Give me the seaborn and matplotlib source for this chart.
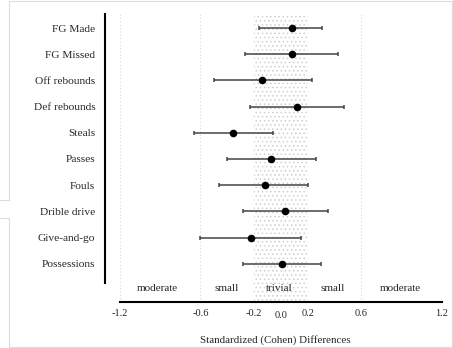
import numpy as np
import pandas as pd
import matplotlib
matplotlib.use('Agg')
import matplotlib.pyplot as plt
from matplotlib.lines import Line2D
from matplotlib.transforms import ScaledTranslation
import seaborn as sns

# データ
variables = ['FG Made', 'FG Missed', 'Off rebounds', 'Def rebounds', 'Steals',
             'Passes', 'Fouls', 'Drible drive', 'Give-and-go', 'Possessions']
effect = [0.08, 0.08, -0.14, 0.12, -0.36, -0.07, -0.12, 0.03, -0.22, 0.01]
ci_low = [-0.16, -0.27, -0.50, -0.23, -0.65, -0.40, -0.46, -0.28, -0.60, -0.28]
ci_high = [0.31, 0.43, 0.23, 0.47, -0.06, 0.26, 0.20, 0.35, 0.15, 0.30]

x_ticks = [-1.2, -0.6, -0.2, 0.0, 0.2, 0.6, 1.2]
zone_edges = [-1.2, -0.6, 0.6, 1.2]
zone_names = ['moderate', 'small', 'trivial', 'small', 'moderate']
zone_centers = [-0.92, -0.405, -0.01, 0.39, 0.893]

df = pd.DataFrame({'var': variables, 'd': effect, 'lo': ci_low, 'hi': ci_high})
df['pos'] = np.arange(len(df))

sns.set_style('white')
plt.rcParams['font.family'] = ['Liberation Serif', 'DejaVu Serif']
plt.rcParams['hatch.linewidth'] = 0.6
plt.rcParams['hatch.color'] = '#cfcfcf'

W, H = 453, 348
fig = plt.figure(figsize=(W / 100, H / 100), dpi=100)
ax = fig.add_axes([120 / W, 1 - 301.7 / H, 321.7 / W, 287.7 / H])

# trivial 領域（点描）と境界線
ax.axvspan(-0.2, 0.2, facecolor='none', edgecolor='#cfcfcf', hatch='....', linewidth=0, zorder=0)
for xe in zone_edges:
    ax.axvline(xe, color='#d8d8d8', linestyle=(0, (1, 2)), linewidth=0.8, zorder=0)

# 誤差棒
ax.errorbar(df['d'], df['pos'], xerr=[df['d'] - df['lo'], df['hi'] - df['d']],
            fmt='none', ecolor='#444444', elinewidth=1.1, capsize=1.6, capthick=1.1, zorder=2)
sns.scatterplot(data=df, x='d', y='pos', ax=ax, color='black', s=30, edgecolor='black',
                linewidth=0, zorder=3, legend=False)

# 効果量ラベル
for name, xc in zip(zone_names, zone_centers):
    ax.text(xc, 9.93, name, ha='center', va='center', fontsize=8)

ax.set_xlim(-1.2, 1.2)
ax.set_ylim(10.45, -0.535)
ax.set_xticks(x_ticks)
ax.set_xticklabels([f'{v:.1f}' for v in x_ticks])
ax.set_yticks(df['pos'])
ax.set_yticklabels(df['var'])
ax.set_xlabel('')
ax.set_ylabel('')

for s in ['top', 'right']:
    ax.spines[s].set_visible(False)
ax.spines['left'].set_position(('outward', 11))
ax.spines['left'].set_bounds(-0.535, 9.74)
ax.spines['left'].set_linewidth(1.5)
ax.spines['bottom'].set_linewidth(1.5)
for s in ['left', 'bottom']:
    ax.spines[s].set_color('black')

ax.tick_params(axis='y', direction='out', length=4.3, width=1.5, pad=2.5, labelsize=8.2)
ax.tick_params(axis='x', direction='in', length=3, width=1.5, pad=5, labelsize=7.5)

# 0.0 のラベルは少し下にずれている
lbl = ax.get_xticklabels()[3]
lbl.set_transform(lbl.get_transform() + ScaledTranslation(0, -2 / 100, fig.dpi_scale_trans))

fig.text(275.3 / W, 1 - 340 / H, 'Standardized (Cohen) Differences', ha='center', va='center', fontsize=7.9)

# スクリーンショットの枠線
frame = '#dcdcdc'
segs = [((9, 9), (1, 200)), ((0, 9), (200, 200)), ((0, 9), (218, 218)),
        ((9, 9), (218, 346.5)), ((9, 452), (1, 1)), ((9, 452), (346.5, 346.5)),
        ((451.5, 451.5), (1, 346.5))]
for xs, ys in segs:
    fig.add_artist(Line2D([x / W for x in xs], [1 - y / H for y in ys],
                          color=frame, linewidth=0.8, transform=fig.transFigure))

plt.savefig('out.png', dpi=100)
